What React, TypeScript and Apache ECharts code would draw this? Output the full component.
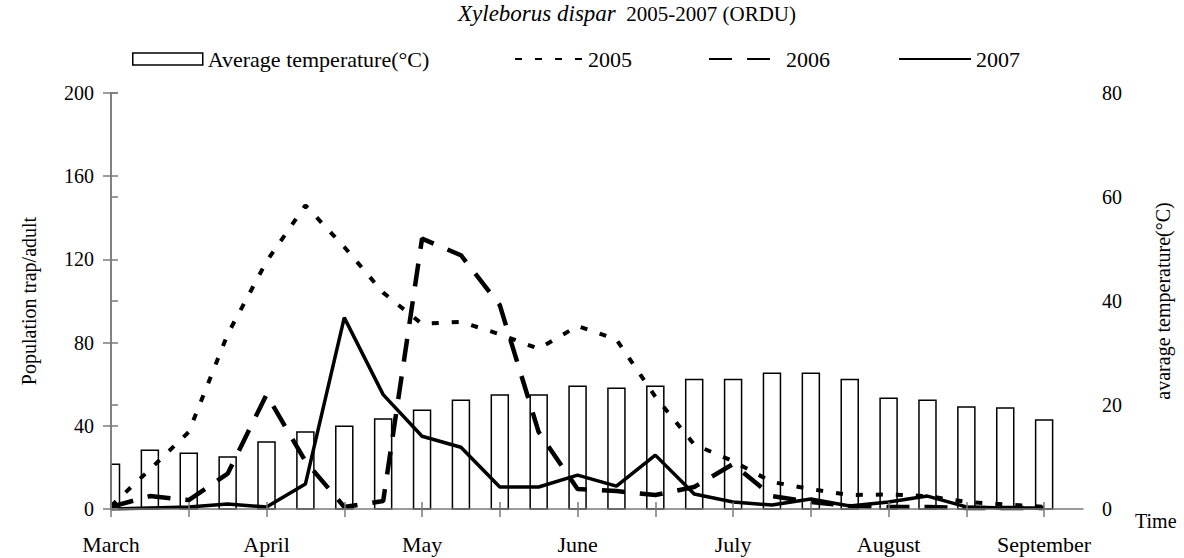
import React, { useEffect, useRef } from "react";
import * as echarts from "echarts";

// Sampling points (approx. weekly) from March to September
const samplePoints = [0, 1, 2, 3, 4, 5, 6, 7, 8, 9, 10, 11, 12, 13, 14, 15, 16, 17, 18, 19, 20, 21, 22, 23, 24];
const tickPoints = [0, 2, 4, 6, 8, 10, 12, 14, 16, 18, 20, 22, 24];
const monthPositions = [0, 4, 8, 12, 16, 20, 24];
const monthLabels = ["March", "April", "May", "June", "July", "August", "September"];

const temperature = [8.6, 11.3, 10.7, 10.0, 12.9, 14.8, 15.9, 17.3, 19.0, 20.9, 21.9, 21.9, 23.6, 23.2, 23.6, 24.9, 24.9, 26.1, 26.1, 24.9, 21.3, 20.9, 19.6, 19.4, 17.1];
const y2005 = [1.4, 19, 37, 84, 119, 146, 126, 104, 89, 90, 84, 77, 88, 81.5, 54, 31, 23, 13, 9.6, 6.7, 7, 6.2, 3.4, 2.2, 1];
const y2006 = [1, 6.2, 4.3, 17, 55, 23, 1, 3.8, 130, 122, 98, 37, 9.6, 8.6, 6.7, 10.6, 21.6, 6.2, 3.4, 1.4, 1, 1, 0.5, 0.5, 0.5];
const y2007 = [0, 0.5, 1, 2.4, 1, 12, 92, 55, 35, 29.7, 10.6, 10.6, 16.3, 11, 25.9, 7.2, 3.4, 1.9, 4.8, 1.4, 3.4, 6.2, 1, 0.5, 0.5];

const leftTicks = { min: 0, max: 200, interval: 40 };
const rightTicks = { min: 0, max: 80, interval: 20 };

const FONT = "Liberation Serif";
const AXIS_GRAY = "#7a7a7a";
const BAR_WIDTH = 17;

const pair = (vals: number[]) => vals.map((v, i) => [samplePoints[i], v]);

export default function App() {
  const ref = useRef<HTMLDivElement>(null);
  useEffect(() => {
    if (!ref.current) return;
    const chart = echarts.init(ref.current, undefined, { renderer: "svg" });
    const legendText = { fontFamily: FONT, fontSize: 22, color: "#000" };
    const hiddenSymbol = { opacity: 0 };
    const option: any = {
      animation: false,
      backgroundColor: "#fff",
      title: {
        text: "{i|Xyleborus dispar}  2005-2007 (ORDU)",
        left: 458,
        top: 2,
        padding: 0,
        textStyle: {
          fontFamily: FONT,
          fontSize: 21,
          fontWeight: "normal",
          color: "#000",
          rich: { i: { fontFamily: FONT, fontSize: 23, fontStyle: "italic", color: "#000" } },
        },
      },
      legend: [
        {
          data: [{ name: "Average temperature(°C)", icon: "rect" }],
          left: 132, top: 48, padding: 0, itemWidth: 70, itemHeight: 12, textStyle: legendText,
          itemStyle: { color: "#ffffff", borderColor: "#000", borderWidth: 1.5 },
        },
        { data: ["2005"], left: 514, top: 48, padding: 0, itemWidth: 68, itemHeight: 12, textStyle: legendText, itemStyle: hiddenSymbol },
        { data: ["2006"], left: 708, top: 48, padding: 0, itemWidth: 72, itemHeight: 12, textStyle: legendText, itemStyle: hiddenSymbol },
        { data: ["2007"], left: 898, top: 48, padding: 0, itemWidth: 72, itemHeight: 12, textStyle: legendText, itemStyle: hiddenSymbol },
      ],
      grid: { left: 111, right: 101, top: 93, bottom: 49, containLabel: false },
      xAxis: [
        {
          type: "value",
          min: 0,
          max: 25,
          position: "bottom",
          z: 10,
          axisLine: { show: true, lineStyle: { color: AXIS_GRAY, width: 1.5 } },
          axisTick: { show: true, customValues: tickPoints, length: 8, inside: false, lineStyle: { color: AXIS_GRAY, width: 1.5 } },
          axisLabel: {
            customValues: monthPositions,
            formatter: (v: number) => monthLabels[monthPositions.indexOf(v)] ?? "",
            fontFamily: FONT,
            fontSize: 22,
            color: "#000",
            margin: 24,
            showMinLabel: true,
            showMaxLabel: true,
          },
          splitLine: { show: false },
          name: "Time",
          nameLocation: "end",
          nameGap: 52,
          nameTextStyle: { fontFamily: FONT, fontSize: 20, color: "#000", verticalAlign: "top", padding: [2, 0, 0, 0] },
        },
        {
          type: "value",
          min: 0,
          max: 25,
          position: "bottom",
          z: 10,
          axisLine: { show: false },
          axisTick: { show: true, customValues: tickPoints, length: 7, inside: true, lineStyle: { color: AXIS_GRAY, width: 1.5 } },
          axisLabel: { show: false },
          splitLine: { show: false },
        },
      ],
      yAxis: [
        {
          type: "value",
          ...leftTicks,
          position: "left",
          z: 10,
          axisLine: { show: true, lineStyle: { color: AXIS_GRAY, width: 1.5 } },
          axisTick: { show: true, length: 8, lineStyle: { color: AXIS_GRAY, width: 1.5 } },
          axisLabel: { fontFamily: FONT, fontSize: 20, color: "#000", margin: 17 },
          splitLine: { show: false },
          name: "Population trap/adult",
          nameLocation: "middle",
          nameGap: 72,
          nameTextStyle: { fontFamily: FONT, fontSize: 20, color: "#000" },
        },
        {
          type: "value",
          ...rightTicks,
          position: "right",
          z: 10,
          axisLine: { show: true, lineStyle: { color: AXIS_GRAY, width: 1.5 } },
          axisTick: { show: true, length: 7, lineStyle: { color: AXIS_GRAY, width: 1.5 } },
          axisLabel: { fontFamily: FONT, fontSize: 20, color: "#000", margin: 19 },
          splitLine: { show: false },
          name: "avarage temperature(°C)",
          nameLocation: "middle",
          nameGap: 70,
          nameTextStyle: { fontFamily: FONT, fontSize: 20, color: "#000" },
        },
        {
          type: "value",
          ...leftTicks,
          position: "left",
          z: 10,
          axisLine: { show: false },
          axisTick: { show: true, length: 7, inside: true, lineStyle: { color: AXIS_GRAY, width: 1.5 } },
          axisLabel: { show: false },
          splitLine: { show: false },
        },
      ],
      series: [
        {
          name: "Average temperature(°C)",
          type: "custom",
          xAxisIndex: 0,
          yAxisIndex: 1,
          data: pair(temperature),
          encode: { x: 0, y: 1 },
          itemStyle: { color: "#ffffff", borderColor: "#000", borderWidth: 1.5 },
          z: 2,
          renderItem: (params: any, api: any) => {
            const x = api.value(0);
            const y = api.value(1);
            const top = api.coord([x, y]);
            const base = api.coord([x, 0]);
            const cs = params.coordSys;
            const rect = echarts.graphic.clipRectByRect(
              { x: top[0] - BAR_WIDTH / 2, y: top[1], width: BAR_WIDTH, height: base[1] - top[1] },
              { x: cs.x, y: cs.y, width: cs.width, height: cs.height }
            );
            if (!rect) return null;
            return {
              type: "rect",
              shape: rect,
              style: { fill: "#ffffff", stroke: "#000", lineWidth: 1.5 },
            };
          },
        },
        {
          name: "2005",
          type: "line",
          xAxisIndex: 0,
          yAxisIndex: 0,
          data: pair(y2005),
          symbol: "none",
          lineStyle: { color: "#000", width: 4, type: [7, 13] },
          itemStyle: { color: "#000" },
          z: 3,
        },
        {
          name: "2006",
          type: "line",
          xAxisIndex: 0,
          yAxisIndex: 0,
          data: pair(y2006),
          symbol: "none",
          lineStyle: { color: "#000", width: 4.5, type: [23, 15] },
          itemStyle: { color: "#000" },
          z: 3,
        },
        {
          name: "2007",
          type: "line",
          xAxisIndex: 0,
          yAxisIndex: 0,
          data: pair(y2007),
          symbol: "none",
          lineStyle: { color: "#000", width: 3.5, type: "solid" },
          itemStyle: { color: "#000" },
          z: 3,
        },
      ],
    };
    chart.setOption(option);
    return () => chart.dispose();
  }, []);
  return <div ref={ref} style={{ position: "fixed", left: 0, top: 0, width: 1184, height: 558 }} />;
}
